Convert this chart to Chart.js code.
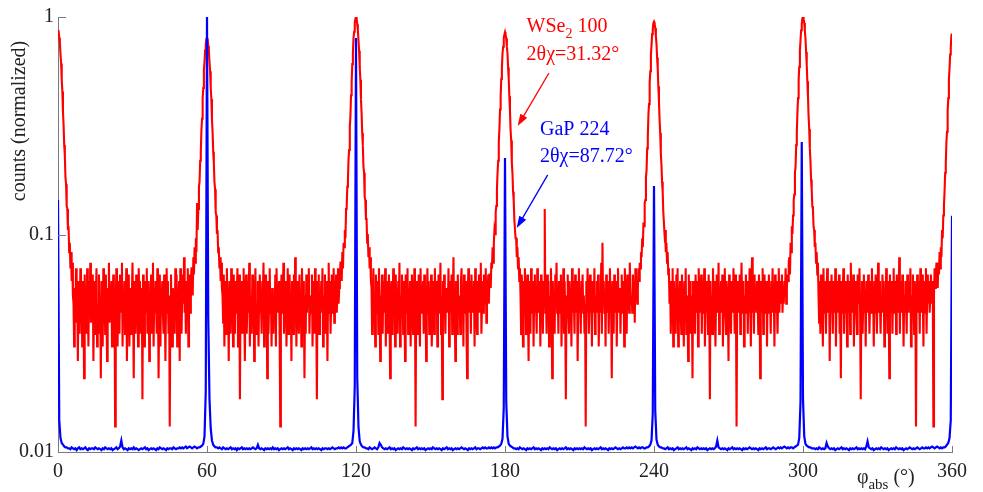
<!DOCTYPE html>
<html>
<head>
<meta charset="utf-8">
<script src="https://cdn.jsdelivr.net/npm/chart.js@4.4.1/dist/chart.umd.min.js"></script>
<style>
  html, body { margin: 0; padding: 0; background: #fff; }
  #wrap { width: 983px; height: 492px; position: relative; }
  #warn { position: absolute; left: 4px; top: 4px; font: 12px sans-serif; color: #c00; }
</style>
</head>
<body>
<div id="wrap"><canvas id="phiChart"></canvas><div id="warn"></div></div>
<script>
// phi scans from 0 to 360 deg
const WSE2_STEP = 0.25;   // deg between WSe2 samples
const GAP_STEP = 0.5;     // deg between GaP samples
const WSE2_MAX = 229;     // counts at the strongest WSe2 peak
const GAP_MAX = 10000;    // GaP counts scaled so the 60 deg peak = 1

const xTicks = [0, 60, 120, 180, 240, 300, 360];
const yTicks = [0.01, 0.1, 1];

// WSe2 100 reflection, raw counts
const wse2Counts = [
  // 0 - 59.75
  199,
  196,184,174,155,140,118,104,84,73,59,53,42,39,31,30,24,25,19,21,16,19,14,17,12,
  11,7,13,10,16,9,12,6,14,11,8,16,10,13,7,14,11,5,15,10,
  12,8,16,11,7,14,10,17,9,12,11,15,6,10,14,8,12,16,7,11,
  10,15,8,12,5,14,11,7,16,10,12,8,15,11,6,13,10,17,9,12,
  11,14,7,10,15,8,12,3,11,16,10,7,14,12,8,15,10,11,17,7,
  12,9,14,8,11,16,6,12,10,15,7,13,11,8,12,17,10,5,14,11,
  8,15,10,12,7,16,11,14,8,10,13,4,15,11,7,14,10,12,16,8,
  11,14,6,12,10,15,8,11,17,7,12,10,14,11,8,16,12,5,10,15,
  7,12,11,14,10,8,15,12,6,11,16,10,14,8,12,3,11,15,10,7,
  13,11,12,8,16,10,15,7,12,11,14,6,16,10,8,12,15,11,18,10,
  12,8,14,11,16,7,12,15,10,14,16,
  16,12,18,15,20,17,22,19,32,24,30,38,40,50,55,69,78,97,108,130,143,161,170,182,
  // 60 - 119.75
  183,
  181,169,160,143,129,108,96,77,68,55,49,40,37,29,28,23,24,19,20,16,18,14,17,13,
  12,9,15,7,11,14,8,16,10,12,6,14,11,8,16,10,12,7,15,11,
  8,14,10,12,16,7,11,15,4,12,10,14,8,11,16,10,6,12,15,8,
  11,14,10,17,7,12,11,8,15,10,14,6,12,16,8,11,10,14,7,12,
  15,10,11,8,14,12,17,7,10,15,11,12,5,14,8,11,16,10,12,7,
  13,11,8,12,10,15,7,16,11,12,10,14,8,3,12,15,10,11,17,8,
  12,10,14,7,11,16,8,12,15,10,11,6,14,12,8,15,10,18,11,7,
  12,14,10,8,15,11,12,7,16,10,14,11,5,12,8,15,10,14,11,16,
  8,11,12,10,15,7,14,11,8,16,12,10,4,14,11,15,8,12,10,14,
  11,16,7,12,10,15,8,14,11,6,12,17,10,14,8,11,15,12,10,16,
  9,14,11,15,10,12,16,11,13,15,17,
  17,14,19,16,21,20,24,22,30,31,38,41,51,56,71,80,100,115,139,157,183,196,215,224,
  // 120 - 179.75
  229,
  226,212,199,179,160,135,118,96,83,67,59,47,44,34,33,27,27,21,23,18,20,16,18,14,
  13,8,12,16,10,11,7,15,12,10,14,8,16,11,6,12,10,15,8,14,
  11,10,16,7,12,14,8,11,15,10,5,12,14,8,11,16,10,12,7,15,
  10,12,8,14,11,17,7,12,10,15,11,8,14,12,6,15,10,11,16,8,
  12,10,14,7,11,15,12,8,10,16,11,3,14,10,12,8,15,11,7,16,
  10,12,11,14,8,15,10,12,6,11,16,10,14,8,12,11,15,7,10,14,
  12,8,16,11,10,14,7,12,15,10,11,17,8,12,4,14,10,15,11,8,
  13,10,12,11,16,7,11,14,10,15,8,12,18,10,11,6,14,12,8,15,
  10,12,11,8,14,16,10,12,7,15,11,10,14,8,5,12,16,11,10,14,
  8,15,12,10,11,14,7,16,12,10,8,14,11,15,10,12,17,8,11,14,
  10,15,12,11,16,9,14,12,15,11,15,
  15,13,17,16,20,17,21,24,23,29,31,37,44,50,61,70,86,99,119,134,156,167,184,190,
  // 180 - 239.75
  195,
  189,183,167,156,134,119,99,85,69,62,49,44,36,33,27,27,22,22,18,20,16,18,14,16,
  12,8,15,11,7,14,10,16,12,8,11,15,10,6,14,12,8,16,11,10,
  14,7,12,15,10,11,8,16,12,10,14,11,7,15,10,12,8,14,11,30,
  10,12,8,15,11,14,7,12,10,16,11,5,14,10,12,8,15,11,17,10,
  12,8,14,11,10,15,7,12,11,16,8,14,10,4,12,11,15,10,8,14,
  11,12,7,16,10,14,11,8,15,12,10,14,6,11,16,10,12,8,14,11,
  15,10,12,8,11,3,14,10,16,12,8,11,15,10,12,7,14,11,10,16,
  8,12,11,14,10,15,7,12,11,10,17,8,21,11,14,10,12,7,15,11,
  10,14,8,12,16,11,10,5,14,12,8,15,11,10,14,7,12,16,10,11,
  13,8,12,15,10,11,14,7,16,12,10,8,15,11,12,10,17,13,11,12,
  10,15,11,14,9,16,12,14,11,13,16,
  14,17,16,19,18,22,20,26,25,32,33,42,45,57,64,81,91,114,129,153,170,191,201,215,
  // 240 - 299.75
  218,
  213,204,187,173,149,133,110,94,77,67,54,48,40,36,29,29,23,24,19,21,17,19,15,16,
  11,14,8,12,10,16,7,14,11,12,8,15,10,16,7,12,11,14,10,8,
  15,11,12,7,14,10,16,8,12,11,6,15,10,14,8,12,11,5,14,10,
  12,8,15,11,10,14,7,16,12,10,11,15,8,14,10,12,16,7,11,14,
  10,12,8,15,11,4,14,10,12,8,16,11,14,10,7,12,15,11,10,17,
  8,12,11,14,10,15,7,11,12,16,10,8,14,12,11,6,15,10,12,8,
  14,11,10,16,12,8,15,11,3,12,14,10,11,15,8,12,17,10,11,14,
  7,12,10,15,11,14,8,12,10,16,11,7,14,18,10,12,8,15,11,12,
  10,14,11,8,15,12,5,14,10,11,16,8,12,15,10,11,14,7,12,10,
  15,11,12,8,14,10,16,11,12,7,15,10,14,11,8,12,16,10,14,11,
  12,15,10,13,11,14,12,16,11,13,15,
  14,17,18,15,21,19,25,23,28,33,35,44,47,59,67,83,97,118,135,160,179,199,212,226,
  // 300 - 359.75
  229,
  224,215,197,182,158,138,116,99,80,70,57,50,41,37,31,30,25,24,20,21,17,19,15,17,
  12,9,14,8,15,11,12,7,16,10,14,11,8,12,16,10,11,14,6,12,
  10,15,11,8,14,12,10,16,7,11,14,10,12,15,8,11,5,14,10,12,
  16,8,11,14,10,12,7,15,11,10,14,8,17,11,12,10,15,7,12,11,
  14,10,8,15,12,11,16,10,4,12,14,8,11,15,10,12,7,14,11,10,
  15,12,8,11,14,10,16,11,12,7,14,10,15,11,8,12,17,10,14,11,
  8,12,10,15,11,14,7,12,10,16,11,8,14,12,5,15,10,11,14,8,
  12,16,10,11,14,8,15,12,10,11,18,8,14,12,10,15,11,7,12,10,
  14,11,8,15,12,10,14,11,16,7,12,10,15,11,8,14,12,3,11,15,
  10,12,14,8,16,11,10,15,12,7,14,11,10,16,8,12,15,11,14,10,
  12,15,11,13,14,3,12,16,13,15,17,
  16,13,17,15,19,16,20,18,24,22,28,31,36,44,49,61,68,85,97,118,132,154,165,189,
  // 360
  192
];

// GaP 224 reflection, counts (x 1e-4 of the 60 deg peak)
const gapCounts = [
  // 0 - 59.5
  1440,140,116,110,108,106,105,105,104,
  104,103,105,104,103,104,102,104,105,103, 104,103,104,105,103,102,104,103,104,104,
  103,105,104,103,104,103,102,104,103,105, 104,103,104,103,104,102,103,104,105,103,
  104,106,113,105,103,104,103,102,104,103, 104,103,105,103,104,103,102,103,104,103,
  104,105,103,104,102,103,104,103,104,103, 102,104,103,105,104,103,104,103,102,104,
  103,104,104,103,105,104,103,104,104,105, 104,105,104,105,106,104,105,106,105,104,
  105,106,105,
  104,105,105,106,107,109,118,190,
  // 60 - 119.5
  10000,420,175,128,113,108,106,105,105,
  104,105,104,103,105,104,103,104,103,104, 105,103,104,103,104,102,104,103,104,105,
  103,104,103,104,103,104,103,104,105,104, 103,104,108,104,103,104,103,102,104,103,
  104,103,104,103,105,103,104,103,104,102, 103,104,103,104,103,104,105,103,104,103,
  102,104,103,104,103,104,103,102,104,103, 104,103,104,103,104,105,103,104,103,104,
  103,104,103,102,104,103,104,104,103,104, 103,104,105,104,103,104,104,105,104,105,
  104,105,104,
  104,105,106,107,108,110,125,200,
  // 120 - 179.5
  8000,220,130,112,108,106,105,105,104,
  104,103,105,104,103,104,105,104,103,105, 110,108,105,104,103,104,103,104,105,103,
  104,103,104,102,103,104,103,104,103,105, 104,103,104,103,104,103,102,104,103,104,
  105,103,104,103,104,103,104,102,103,104, 103,104,103,105,104,103,104,103,104,103,
  102,104,103,104,105,103,104,103,104,102, 103,104,103,104,103,104,105,104,103,104,
  103,102,104,103,104,103,104,105,103,104, 104,103,104,105,104,105,104,104,105,104,
  105,104,105,
  104,105,105,106,107,109,115,160,
  // 180 - 239.5
  2250,170,118,109,107,106,105,104,104,
  103,104,103,105,104,103,104,103,102,104, 103,104,103,104,105,103,104,103,104,103,
  102,104,103,104,103,104,103,105,104,103, 104,103,104,102,103,104,103,104,103,104,
  105,103,104,103,104,103,102,104,103,104, 103,104,103,104,103,105,104,103,104,103,
  104,102,103,104,103,104,103,104,105,103, 104,103,104,103,102,104,103,104,103,104,
  105,104,103,104,103,104,105,104,104,105, 104,105,104,105,104,105,106,105,104,105,
  104,105,105,
  104,104,105,105,106,108,113,150,
  // 240 - 299.5 (peak sits at 299.5)
  1670,155,114,108,106,105,105,104,104,
  103,104,105,103,104,103,104,102,103,104, 105,103,104,103,104,103,104,105,103,104,
  103,102,104,103,104,103,105,104,103,104, 103,104,103,104,102,103,104,103,104,103,
  104,106,113,105,104,103,104,103,104,103, 102,104,103,104,105,103,104,103,104,103,
  104,103,102,104,103,104,103,104,105,104, 103,104,103,104,103,102,104,103,104,103,
  104,105,103,104,104,103,104,105,104,103, 104,105,104,105,104,105,106,105,104,105,
  104,105,105,
  104,105,106,107,108,116,170,2660,
  // 300 - 359.5
  175,118,109,107,106,105,105,104,104,
  104,103,104,103,105,104,103,104,103,104, 110,106,104,103,104,103,104,102,103,104,
  103,104,105,103,104,103,104,103,102,104, 103,104,103,104,105,103,104,103,104,103,
  104,103,106,112,105,104,103,104,102,103, 104,103,104,103,105,104,103,104,103,104,
  102,103,104,103,104,103,105,104,103,104, 103,104,102,103,104,103,104,105,104,103,
  104,103,104,105,104,103,104,105,104,104, 105,104,105,104,105,106,105,104,105,106,
  105,104,105,
  104,105,105,106,108,110,116,140,
  // 360
  1220
];

if (wse2Counts.length !== 1441 || gapCounts.length !== 721) {
  document.getElementById('warn').textContent =
    'length mismatch: wse2 ' + wse2Counts.length + ', gap ' + gapCounts.length;
}

const RED = '#ff0000';
const BLUE = '#0000ff';
const AXIS_GREY = '#7a7a7a';
const TEXT = '#222222';
const SERIF = '"Liberation Serif", "Times New Roman", serif';

const wse2Points = wse2Counts.map((c, i) => ({ x: i * WSE2_STEP, y: c / WSE2_MAX }));
const gapPoints = gapCounts.map((c, i) => ({ x: i * GAP_STEP, y: c / GAP_MAX }));

// text labels and arrows, placed in data coordinates
const notes = [
  { parts: [{ text: 'WSe' }, { text: '2', sub: true }, { text: ' 100' }], x: 188.7, y: 0.856, color: RED },
  { parts: [{ text: '2θχ=31.32°' }], x: 188.7, y: 0.634, color: RED },
  { parts: [{ text: 'GaP 224' }], x: 194.1, y: 0.287, color: BLUE },
  { parts: [{ text: '2θχ=87.72°' }], x: 194.1, y: 0.216, color: BLUE }
];
const arrows = [
  { from: [197.7, 0.553], to: [185.1, 0.315], color: RED },
  { from: [197.2, 0.188], to: [184.7, 0.107], color: BLUE }
];

function drawParts(ctx, parts, x, y, size, subSize, color) {
  ctx.fillStyle = color;
  ctx.textAlign = 'left';
  ctx.textBaseline = 'alphabetic';
  let cx = x;
  for (const p of parts) {
    ctx.font = `${p.sub ? subSize : size}px ${SERIF}`;
    ctx.fillText(p.text, cx, y + (p.sub ? Math.round(size * 0.28) : 0));
    cx += ctx.measureText(p.text).width;
  }
}

function drawArrow(ctx, x0, y0, x1, y1, color) {
  const ang = Math.atan2(y1 - y0, x1 - x0);
  const len = 12, half = 4;
  ctx.strokeStyle = color;
  ctx.fillStyle = color;
  ctx.lineWidth = 1.3;
  ctx.beginPath();
  ctx.moveTo(x0, y0);
  ctx.lineTo(x1 - Math.cos(ang) * len * 0.8, y1 - Math.sin(ang) * len * 0.8);
  ctx.stroke();
  ctx.beginPath();
  ctx.moveTo(x1, y1);
  ctx.lineTo(x1 - Math.cos(ang) * len + Math.sin(ang) * half, y1 - Math.sin(ang) * len - Math.cos(ang) * half);
  ctx.lineTo(x1 - Math.cos(ang) * len - Math.sin(ang) * half, y1 - Math.sin(ang) * len + Math.cos(ang) * half);
  ctx.closePath();
  ctx.fill();
}

const decorPlugin = {
  id: 'decor',
  afterDraw(chart) {
    const { ctx, chartArea: area, scales: { x, y } } = chart;
    ctx.save();

    // inward tick marks
    ctx.strokeStyle = AXIS_GREY;
    ctx.lineWidth = 1;
    ctx.beginPath();
    xTicks.forEach(v => {
      const px = Math.round(x.getPixelForValue(v)) + 0.5;
      ctx.moveTo(px, area.bottom);
      ctx.lineTo(px, area.bottom - 6);
    });
    yTicks.forEach(v => {
      const py = Math.round(y.getPixelForValue(v)) + 0.5;
      ctx.moveTo(area.left, py);
      ctx.lineTo(area.left + 8, py);
    });
    ctx.stroke();

    // y axis title
    ctx.save();
    ctx.translate(25, 121);
    ctx.rotate(-Math.PI / 2);
    ctx.fillStyle = TEXT;
    ctx.font = `20px ${SERIF}`;
    ctx.textAlign = 'center';
    ctx.textBaseline = 'alphabetic';
    ctx.fillText('counts (normalized)', 0, 0);
    ctx.restore();

    // x axis title
    drawParts(ctx, [{ text: 'φ' }, { text: 'abs', sub: true }, { text: ' (°)' }],
      x.getPixelForValue(321.7), area.bottom + 31, 20, 15, TEXT);

    // reflection labels
    notes.forEach(n => {
      drawParts(ctx, n.parts, x.getPixelForValue(n.x), y.getPixelForValue(n.y), 20, 14, n.color);
    });
    arrows.forEach(a => {
      drawArrow(ctx,
        x.getPixelForValue(a.from[0]), y.getPixelForValue(a.from[1]),
        x.getPixelForValue(a.to[0]), y.getPixelForValue(a.to[1]), a.color);
    });

    ctx.restore();
  }
};

Chart.defaults.font.family = SERIF;

new Chart(document.getElementById('phiChart'), {
  type: 'line',
  data: {
    datasets: [
      {
        label: 'GaP 224',
        data: gapPoints,
        borderColor: BLUE,
        borderWidth: 2.2,
        pointRadius: 0,
        tension: 0,
        order: 0
      },
      {
        label: 'WSe2 100',
        data: wse2Points,
        borderColor: RED,
        borderWidth: 2.1,
        pointRadius: 0,
        tension: 0,
        order: 1
      }
    ]
  },
  options: {
    responsive: true,
    maintainAspectRatio: false,
    animation: false,
    events: [],
    layout: { padding: { top: 17, right: 31, left: 0, bottom: 0 } },
    plugins: {
      legend: { display: false },
      tooltip: { enabled: false }
    },
    scales: {
      x: {
        type: 'linear',
        min: 0,
        max: 360,
        afterBuildTicks: scale => { scale.ticks = xTicks.map(v => ({ value: v })); },
        afterFit: scale => { scale.height = 40; },
        grid: { display: false, drawTicks: false },
        border: { display: true, color: AXIS_GREY, width: 1 },
        ticks: {
          autoSkip: false,
          maxRotation: 0,
          padding: 8,
          color: TEXT,
          font: { size: 20 },
          callback: v => String(v)
        }
      },
      y: {
        type: 'logarithmic',
        min: 0.01,
        max: 1,
        afterBuildTicks: scale => { scale.ticks = yTicks.map(v => ({ value: v })); },
        afterFit: scale => { scale.width = 58; },
        grid: { display: false, drawTicks: false },
        border: { display: true, color: AXIS_GREY, width: 1 },
        ticks: {
          padding: 4,
          color: TEXT,
          font: { size: 20 },
          callback: v => String(v)
        }
      }
    }
  },
  plugins: [decorPlugin]
});
</script>
</body>
</html>
